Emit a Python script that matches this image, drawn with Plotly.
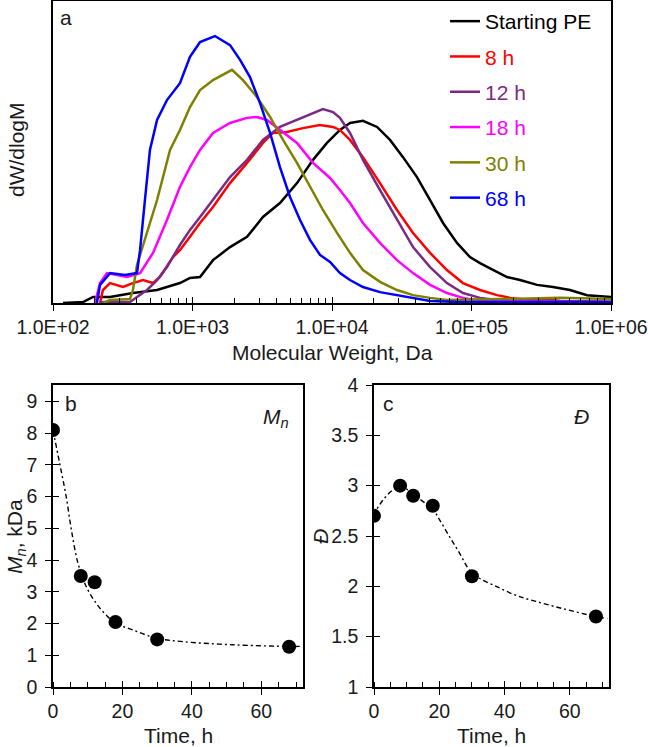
import plotly.graph_objects as go

W, H = 648, 747
FONT = "Liberation Sans, Arial, sans-serif"
TXT = "#1a1a1a"

# ---------------- Panel a: GPC traces (log10 M vs normalised dW/dlogM) ----------------
pe_logm = [2.072, 2.215, 2.287, 2.409, 2.573, 2.746, 2.910, 2.982, 3.054, 3.147, 3.269, 3.391, 3.505,
           3.627, 3.749, 3.864, 3.964, 4.057, 4.129, 4.222, 4.323, 4.416, 4.509, 4.609, 4.703, 4.796,
           4.896, 4.989, 5.061, 5.154, 5.254, 5.348, 5.470, 5.584, 5.706, 5.828, 6.000]
pe_w = [0.000, 0.003, 0.020, 0.020, 0.033, 0.043, 0.066, 0.083, 0.086, 0.142, 0.185, 0.219, 0.285,
        0.331, 0.397, 0.474, 0.530, 0.573, 0.596, 0.603, 0.583, 0.540, 0.483, 0.417, 0.341, 0.265,
        0.199, 0.152, 0.132, 0.109, 0.086, 0.076, 0.060, 0.053, 0.043, 0.026, 0.020]

h8_logm = [2.337, 2.358, 2.409, 2.502, 2.573, 2.645, 2.717, 2.767, 2.860, 2.910, 2.982, 3.054, 3.147,
           3.269, 3.391, 3.505, 3.577, 3.677, 3.792, 3.914, 4.007, 4.057, 4.129, 4.222, 4.344, 4.466,
           4.581, 4.703, 4.824, 4.939, 5.061, 5.183, 5.276, 5.419, 5.527, 5.634, 6.000]
h8_w = [0.000, 0.043, 0.066, 0.053, 0.066, 0.076, 0.066, 0.086, 0.152, 0.175, 0.219, 0.265, 0.318,
        0.397, 0.464, 0.530, 0.563, 0.566, 0.579, 0.589, 0.583, 0.573, 0.540, 0.483, 0.397, 0.308,
        0.232, 0.166, 0.109, 0.066, 0.043, 0.026, 0.017, 0.010, 0.013, 0.007, 0.003]

h12_logm = [2.337, 2.552, 2.602, 2.674, 2.746, 2.817, 2.910, 2.982, 3.054, 3.147, 3.269, 3.391, 3.505,
            3.627, 3.749, 3.864, 3.935, 4.007, 4.057, 4.129, 4.222, 4.344, 4.466, 4.581, 4.703, 4.824,
            4.939, 5.061, 5.183, 6.000]
h12_w = [0.003, 0.003, 0.020, 0.043, 0.076, 0.119, 0.192, 0.242, 0.285, 0.341, 0.417, 0.474, 0.540,
         0.583, 0.606, 0.629, 0.642, 0.632, 0.613, 0.563, 0.474, 0.374, 0.275, 0.185, 0.119, 0.066,
         0.033, 0.017, 0.010, 0.003]

h18_logm = [2.301, 2.337, 2.387, 2.459, 2.530, 2.624, 2.717, 2.817, 2.910, 2.982, 3.054, 3.147, 3.269,
            3.391, 3.462, 3.534, 3.627, 3.749, 3.864, 3.986, 4.057, 4.129, 4.222, 4.344, 4.466, 4.581,
            4.703, 4.824, 4.939, 5.061, 6.000]
h18_w = [0.000, 0.066, 0.099, 0.093, 0.086, 0.099, 0.166, 0.275, 0.384, 0.450, 0.507, 0.563, 0.596,
         0.613, 0.616, 0.606, 0.573, 0.530, 0.464, 0.414, 0.374, 0.331, 0.265, 0.199, 0.142, 0.099,
         0.060, 0.033, 0.017, 0.007, 0.003]

h30_logm = [2.358, 2.409, 2.552, 2.573, 2.602, 2.645, 2.746, 2.839, 2.910, 2.982, 3.054, 3.147, 3.283,
            3.362, 3.462, 3.556, 3.649, 3.749, 3.842, 3.935, 4.036, 4.129, 4.222, 4.344, 4.466, 4.581,
            4.703, 4.824, 5.204, 5.634, 6.000]
h30_w = [0.000, 0.010, 0.013, 0.043, 0.126, 0.192, 0.341, 0.507, 0.573, 0.649, 0.705, 0.738, 0.772,
         0.738, 0.682, 0.616, 0.540, 0.464, 0.384, 0.308, 0.232, 0.166, 0.109, 0.070, 0.043, 0.026,
         0.017, 0.010, 0.013, 0.017, 0.013]

h68_logm = [2.315, 2.337, 2.409, 2.516, 2.602, 2.624, 2.659, 2.695, 2.746, 2.817, 2.910, 2.982, 3.054,
            3.161, 3.269, 3.341, 3.412, 3.484, 3.556, 3.627, 3.699, 3.771, 3.842, 3.914, 3.986, 4.057,
            4.129, 4.222, 4.344, 4.466, 4.581, 4.703, 4.918, 6.000]
h68_w = [0.000, 0.060, 0.099, 0.093, 0.099, 0.175, 0.341, 0.507, 0.606, 0.672, 0.728, 0.815, 0.864,
         0.884, 0.854, 0.805, 0.748, 0.662, 0.563, 0.450, 0.351, 0.275, 0.209, 0.159, 0.136, 0.099,
         0.076, 0.053, 0.036, 0.026, 0.017, 0.007, 0.003, 0.003]

series_names = ["Starting PE", "8 h", "12 h", "18 h", "30 h", "68 h"]
series_colors = ["#000000", "#ff0000", "#7b2a83", "#ff00ff", "#808000", "#0000ff"]
series_logm = [pe_logm, h8_logm, h12_logm, h18_logm, h30_logm, h68_logm]
series_w = [pe_w, h8_w, h12_w, h18_w, h30_w, h68_w]

mw_tickvals = [1e2, 1e3, 1e4, 1e5, 1e6]
mw_ticktext = ["1.0E+02", "1.0E+03", "1.0E+04", "1.0E+05", "1.0E+06"]

# ---------------- Panels b and c ----------------
time_h = [0, 8, 12, 18, 30, 68]
mn_kda = [8.1, 3.5, 3.3, 2.05, 1.5, 1.27]
dispersity = [2.7, 3.0, 2.9, 2.8, 2.1, 1.7]

mn_fit_t = [0, 1.9, 3.8, 5.3, 7.2, 9.6, 12.5, 15.3, 18.2, 23, 29.7, 37.4, 51.8, 68, 71.5]
mn_fit_y = [8.1, 7.06, 6.0, 4.95, 3.9, 3.16, 2.63, 2.27, 2.0, 1.8, 1.54, 1.43, 1.33, 1.28, 1.28]

d_fit_t = [0, 0.8, 2.8, 5.9, 8.4, 13, 18.1, 20.1, 23.2, 26.2, 29.3, 32.3, 37.4, 43.5, 49.6, 57.7, 67.9, 71.5]
d_fit_y = [2.7, 2.76, 2.86, 2.96, 2.99, 2.89, 2.76, 2.66, 2.49, 2.33, 2.16, 2.08, 2.0, 1.91, 1.85, 1.78, 1.70, 1.68]

# ---------------- geometry helpers (pixels -> paper) ----------------
def fx(px):
    return px / W

def fy(py):
    return 1 - py / H

dom_a_x = [fx(53), fx(611)]
dom_a_y = [fy(303), fy(1)]
dom_b_x = [fx(53), fx(303)]
dom_c_x = [fx(374), fx(609)]
dom_bc_y = [fy(687), fy(385)]

fig = go.Figure()

for i, (name, lm, w, col) in enumerate(zip(series_names, series_logm, series_w, series_colors)):
    fig.add_trace(go.Scatter(
        x=[10 ** v for v in lm], y=w, mode="lines",
        line=dict(color=col, width=2.5),
        name=f"<span style='color:{col}'>{name}</span>",
        legendgroup=f"g{i}", xaxis="x", yaxis="y"))

fit_dash = "5px,3px,2px,3px"
fig.add_trace(go.Scatter(x=mn_fit_t, y=mn_fit_y, mode="lines", line=dict(color="black", width=1.4, dash=fit_dash, shape="spline"),
                         showlegend=False, xaxis="x2", yaxis="y2"))
fig.add_trace(go.Scatter(x=time_h, y=mn_kda, mode="markers", marker=dict(color="black", size=14),
                         showlegend=False, xaxis="x2", yaxis="y2"))
fig.add_trace(go.Scatter(x=d_fit_t, y=d_fit_y, mode="lines", line=dict(color="black", width=1.4, dash=fit_dash, shape="spline"),
                         showlegend=False, xaxis="x3", yaxis="y3"))
fig.add_trace(go.Scatter(x=time_h, y=dispersity, mode="markers", marker=dict(color="black", size=14),
                         showlegend=False, xaxis="x3", yaxis="y3"))

# empty helper traces so the overlay tick axes get drawn
for xa, ya in [("x4", "y"), ("x5", "y2"), ("x6", "y3"), ("x2", "y5"), ("x3", "y6")]:
    fig.add_trace(go.Scatter(x=[], y=[], showlegend=False, xaxis=xa, yaxis=ya, hoverinfo="skip"))

tickfont = dict(family=FONT, size=19.5, color=TXT)
frame = dict(showline=True, linecolor="black", linewidth=1.5, mirror=True, showgrid=False, zeroline=False,
             tickcolor="black", tickwidth=1.3, tickfont=tickfont, automargin=False)
overlay = dict(tickwidth=1.3, tickcolor="black", showticklabels=False, showgrid=False, zeroline=False,
               showline=False, automargin=False)

minor_log = [k * 10 ** e for e in range(2, 6) for k in range(2, 10)]
time_ticks = [0, 20, 40, 60]

fig.update_layout(
    template="none",
    width=W, height=H, margin=dict(l=0, r=0, t=0, b=0, pad=0, autoexpand=False),
    paper_bgcolor="white", plot_bgcolor="white",
    font=dict(family=FONT, size=21, color=TXT),
    showlegend=True,
    legend=dict(x=fx(445), y=fy(1), xanchor="left", yanchor="top", bgcolor="rgba(0,0,0,0)",
                font=dict(family=FONT, size=21), tracegroupgap=5, borderwidth=0),
    xaxis=dict(domain=dom_a_x, anchor="y", type="log", range=[2, 6], tickvals=mw_tickvals, ticktext=mw_ticktext,
               ticks="outside", ticklen=6,
               minor=dict(tickvals=minor_log, ticks="inside", ticklen=5, tickcolor="black", tickwidth=1.2),
               **frame),
    yaxis=dict(domain=dom_a_y, anchor="x", range=[0, 1.0], showticklabels=False, ticks="", **frame),
    xaxis4=dict(overlaying="x", anchor="y", type="log", range=[2, 6], tickvals=mw_tickvals, ticks="inside",
                ticklen=6, **overlay),
    xaxis2=dict(domain=dom_b_x, anchor="y2", range=[0, 72], tickvals=time_ticks, ticks="outside", ticklen=6,
                minor=dict(dtick=5, tick0=0, ticks="inside", ticklen=5, tickcolor="black", tickwidth=1.2),
                **frame),
    yaxis2=dict(domain=dom_bc_y, anchor="x2", range=[0, 9.52], dtick=1, tick0=0, ticks="outside", ticklen=6,
                ticklabelstandoff=4, **frame),
    xaxis5=dict(overlaying="x2", anchor="y2", range=[0, 72], tickvals=time_ticks, ticks="inside", ticklen=6, **overlay),
    yaxis5=dict(overlaying="y2", anchor="x2", range=[0, 9.52], dtick=1, tick0=0, ticks="inside", ticklen=6, **overlay),
    xaxis3=dict(domain=dom_c_x, anchor="y3", range=[0, 72], tickvals=time_ticks, ticks="outside", ticklen=6,
                minor=dict(dtick=5, tick0=0, ticks="inside", ticklen=5, tickcolor="black", tickwidth=1.2),
                **frame),
    yaxis3=dict(domain=dom_bc_y, anchor="x3", range=[1, 4], dtick=0.5, tick0=1, ticks="outside", ticklen=6,
                ticklabelstandoff=4, **frame),
    xaxis6=dict(overlaying="x3", anchor="y3", range=[0, 72], tickvals=time_ticks, ticks="inside", ticklen=6, **overlay),
    yaxis6=dict(overlaying="y3", anchor="x3", range=[1, 4], dtick=0.5, tick0=1, ticks="inside", ticklen=6, **overlay),
)

def ann(text, px, py, angle=0, size=21, xanchor="center"):
    fig.add_annotation(text=text, x=fx(px), y=fy(py), xref="paper", yref="paper", showarrow=False,
                       textangle=angle, xanchor=xanchor, yanchor="middle",
                       font=dict(family=FONT, size=size, color=TXT))

ann("Molecular Weight, Da", 332, 352)
ann("dW/dlogM", 16, 150, angle=-90)
ann("a", 66, 18)
ann("b", 71, 404)
ann("c", 388, 403)
ann("<i>M<sub>n</sub></i>", 291, 418, xanchor="right")
ann("<i>Đ</i>", 581, 417)
ann("<i>M<sub>n</sub></i>, kDa", 16, 537, angle=-90)
ann("<i>Đ</i>", 320, 537, angle=-90)
ann("Time, h", 178, 735)
ann("Time, h", 491, 735)

fig.write_html("out.html", config={"displayModeBar": False},
               post_script="document.body.style.margin='0px';document.body.style.overflow='hidden';")
